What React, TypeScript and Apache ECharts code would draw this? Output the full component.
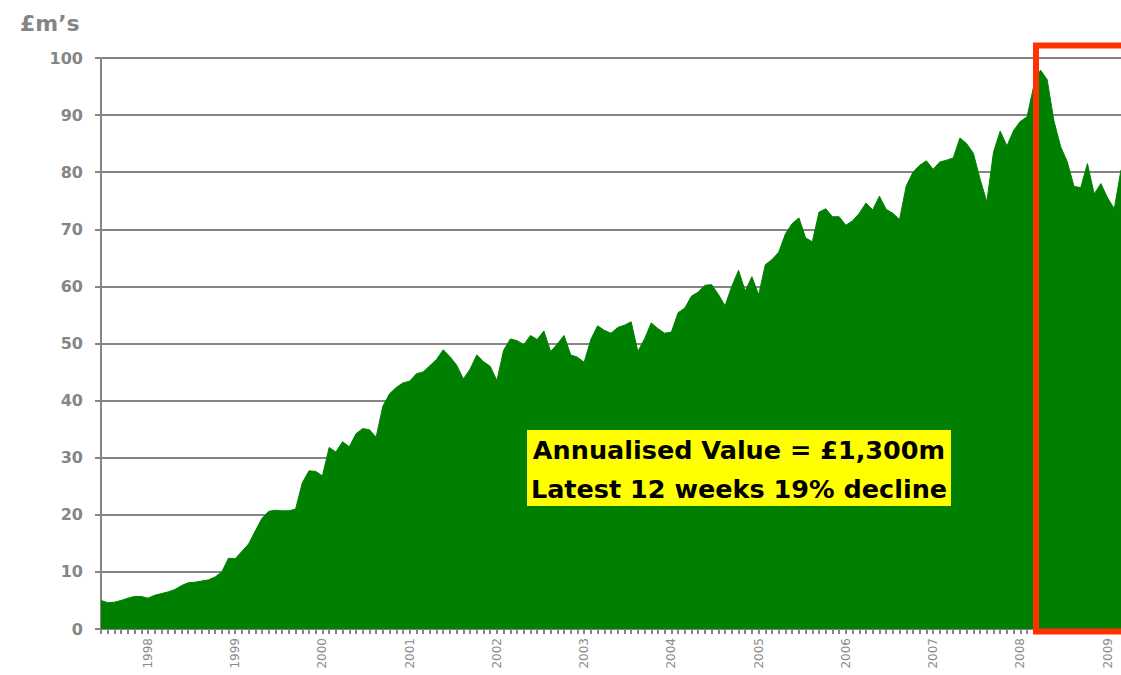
import React, { useEffect, useRef } from "react";
import * as echarts from "echarts";

// Year labels shown on the x axis (13 four-weekly periods per year)
const yearLabels = ["1998", "1999", "2000", "2001", "2002", "2003", "2004", "2005", "2006", "2007", "2008", "2009"];
const periodsPerYear = 13;
const firstPeriodOfSeries = 7; // series starts at period 7 of 1997
const firstYear = 1997;

// Annualised value (£m) per four-weekly period
const salesValues = [
  5.0, 4.6, 4.7, 5.0, 5.4, 5.7, 5.7, 5.4, 5.9, 6.2,
  6.5, 6.9, 7.6, 8.1, 8.2, 8.4, 8.6, 9.1, 10.0, 12.4,
  12.3, 13.6, 14.9, 17.2, 19.4, 20.6, 20.8, 20.7, 20.7, 21.0,
  25.6, 27.7, 27.6, 26.8, 31.8, 31.0, 32.8, 31.9, 34.2, 35.1,
  34.9, 33.6, 39.0, 41.2, 42.3, 43.1, 43.4, 44.7, 45.0, 46.1,
  47.2, 48.9, 47.7, 46.2, 43.8, 45.5, 48.0, 46.8, 46.0, 43.5,
  48.8, 50.8, 50.5, 49.8, 51.4, 50.7, 52.2, 48.6, 49.9, 51.4,
  48.0, 47.6, 46.7, 50.7, 53.1, 52.3, 51.8, 52.8, 53.2, 53.8,
  48.6, 50.8, 53.6, 52.6, 51.8, 52.0, 55.4, 56.2, 58.3, 59.0,
  60.2, 60.3, 58.6, 56.6, 60.0, 62.8, 59.2, 61.7, 58.5, 63.8,
  64.7, 66.0, 69.2, 71.0, 72.0, 68.5, 67.8, 73.0, 73.6, 72.2,
  72.2, 70.7, 71.5, 72.8, 74.6, 73.4, 75.8, 73.5, 72.8, 71.7,
  77.6, 80.0, 81.2, 82.0, 80.5, 81.8, 82.1, 82.5, 86.0, 85.0,
  83.3, 78.8, 74.8, 83.5, 87.2, 84.6, 87.3, 88.9, 89.7, 95.1,
  97.9, 96.2, 89.0, 84.5, 81.8, 77.5, 77.3, 81.5, 76.2, 78.0,
  75.5, 73.6, 80.4,
];

const yTicks = { min: 0, max: 100, interval: 10 };
const unitLabel = "£m’s";
const annotationLines = ["Annualised Value = £1,300m", "Latest 12 weeks 19% decline"];

const categories = salesValues.map((_, i) => {
  const k = i + firstPeriodOfSeries - 1;
  const year = firstYear + Math.floor(k / periodsPerYear);
  const period = (k % periodsPerYear) + 1;
  return `${year} P${period}`;
});

const GREY = "#858585";
const FONT = "DejaVu Sans";

export default function App() {
  const ref = useRef<HTMLDivElement>(null);

  useEffect(() => {
    if (!ref.current) return;
    const chart = echarts.init(ref.current, null, { renderer: "svg" });
    chart.setOption({
      animation: false,
      backgroundColor: "#ffffff",
      title: {
        text: unitLabel,
        left: 15,
        top: 7,
        textStyle: { color: GREY, fontFamily: FONT, fontWeight: "bold", fontSize: 22 },
      },
      grid: { left: 101, right: 0, top: 58, bottom: 46, containLabel: false },
      xAxis: {
        type: "category",
        data: categories,
        boundaryGap: false,
        axisLine: { show: true, lineStyle: { color: GREY, width: 2 } },
        axisTick: { show: true, interval: 0, length: 5, lineStyle: { color: GREY, width: 2 } },
        axisLabel: {
          interval: (idx: number, val: string) => val.endsWith(" P1") && yearLabels.includes(val.slice(0, 4)),
          formatter: (val: string) => val.slice(0, 4),
          rotate: 90,
          margin: 9,
          color: "#8a8a8a",
          fontFamily: FONT,
          fontSize: 12,
        },
        splitLine: { show: false },
      },
      yAxis: {
        type: "value",
        min: yTicks.min,
        max: yTicks.max,
        interval: yTicks.interval,
        axisLine: { show: true, lineStyle: { color: GREY, width: 2 } },
        axisTick: { show: true, length: 6, lineStyle: { color: GREY, width: 2 } },
        axisLabel: {
          color: GREY,
          fontFamily: FONT,
          fontWeight: "bold",
          fontSize: 16,
          margin: 18,
        },
        splitLine: { show: true, lineStyle: { color: GREY, width: 2 } },
      },
      series: [
        {
          type: "line",
          data: salesValues,
          symbol: "none",
          smooth: false,
          lineStyle: { color: "#008000", width: 1 },
          areaStyle: { color: "#008000", opacity: 1 },
          itemStyle: { color: "#008000" },
          z: 3,
        },
      ],
      graphic: {
        elements: [
          {
            type: "rect",
            id: "noteBox",
            z: 100,
            left: 527,
            top: 430,
            shape: { width: 424, height: 76 },
            style: { fill: "#ffff00" },
          },
          {
            type: "text",
            id: "noteText1",
            z: 101,
            x: 739,
            y: 450,
            style: {
              text: annotationLines[0],
              font: `bold 25.5px ${FONT}`,
              fill: "#000000",
              align: "center",
              verticalAlign: "middle",
            },
          },
          {
            type: "text",
            id: "noteText2",
            z: 101,
            x: 739,
            y: 489,
            style: {
              text: annotationLines[1],
              font: `bold 25.5px ${FONT}`,
              fill: "#000000",
              align: "center",
              verticalAlign: "middle",
            },
          },
          {
            type: "rect",
            id: "redBox",
            z: 110,
            shape: { x: 1036, y: 45.5, width: 200, height: 586 },
            style: { fill: "none", stroke: "#ff3300", lineWidth: 6 },
          },
        ],
      },
    });
    return () => chart.dispose();
  }, []);

  return (
    <div
      ref={ref}
      style={{ position: "fixed", left: 0, top: 0, width: 1121, height: 675, background: "#fff" }}
    />
  );
}
